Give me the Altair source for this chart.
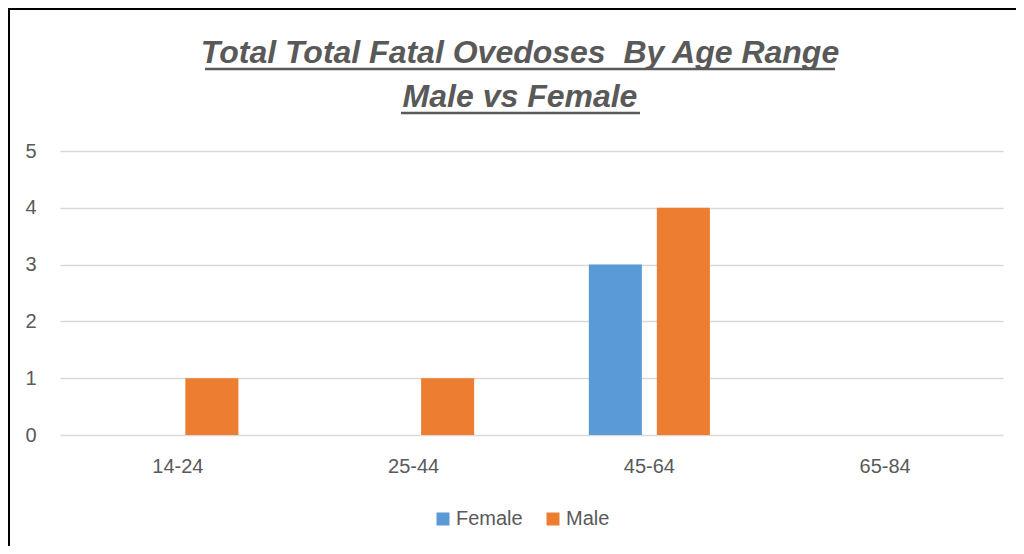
import altair as alt
import pandas as pd

# ---- data ----
age_ranges = ["14-24", "25-44", "45-64", "65-84"]
female_counts = [0, 0, 3, 0]
male_counts = [1, 1, 4, 0]
series_names = ["Female", "Male"]
series_colors = ["#5b9bd5", "#ed7d31"]
title_lines = ["Total Total Fatal Ovedoses \u00a0By Age Range", "Male vs Female"]

rows = []
for i, a in enumerate(age_ranges):
    rows.append({"age": a, "sex": "Female", "count": female_counts[i]})
    rows.append({"age": a, "sex": "Male", "count": male_counts[i]})
df = pd.DataFrame(rows)

FONT = "Liberation Sans"
GREY = "#595959"
W, H = 943, 284

bars = alt.Chart(df).mark_bar().encode(
    x=alt.X("age:N", sort=age_ranges,
            scale=alt.Scale(paddingInner=0, paddingOuter=0),
            axis=alt.Axis(title=None, labelAngle=0, ticks=False, domain=False,
                          labelFontSize=20, labelColor=GREY, labelFont=FONT,
                          labelPadding=21, grid=False)),
    xOffset=alt.XOffset("sex:N", sort=series_names,
                        scale=alt.Scale(paddingInner=0.22, paddingOuter=0.843)),
    y=alt.Y("count:Q", scale=alt.Scale(domain=[0, 5], nice=False),
            axis=alt.Axis(title=None, values=[0, 1, 2, 3, 4, 5], ticks=False,
                          domain=False, labelFontSize=20, labelColor=GREY,
                          labelFont=FONT, labelPadding=24,
                          gridColor="#d9d9d9", gridWidth=1.3)),
    color=alt.Color("sex:N", sort=series_names,
                    scale=alt.Scale(domain=series_names, range=series_colors),
                    legend=alt.Legend(title=None, orient="none", direction="horizontal",
                                      legendX=373, legendY=358, symbolType="square",
                                      symbolSize=169, symbolStrokeWidth=0,
                                      labelFontSize=20, labelColor=GREY, labelFont=FONT,
                                      labelOffset=3, columnPadding=20, padding=0)),
)

t1 = alt.Chart(pd.DataFrame({"t": [title_lines[0]]})).mark_text(
    font=FONT, fontSize=32, fontWeight="bold", fontStyle="italic",
    color=GREY, align="center", baseline="alphabetic"
).encode(text="t:N", x=alt.value(460), y=alt.value(-88))

t2 = alt.Chart(pd.DataFrame({"t": [title_lines[1]]})).mark_text(
    font=FONT, fontSize=32, fontWeight="bold", fontStyle="italic",
    color=GREY, align="center", baseline="alphabetic"
).encode(text="t:N", x=alt.value(460), y=alt.value(-44))

u1 = alt.Chart(pd.DataFrame({"d": [0]})).mark_rule(color=GREY, strokeWidth=2.5).encode(
    x=alt.value(145), x2=alt.value(775), y=alt.value(-82))
u2 = alt.Chart(pd.DataFrame({"d": [0]})).mark_rule(color=GREY, strokeWidth=2.5).encode(
    x=alt.value(341), x2=alt.value(580), y=alt.value(-38))

frame_top = alt.Chart(pd.DataFrame({"d": [0]})).mark_rule(color="#000000", strokeWidth=3).encode(
    x=alt.value(-60), x2=alt.value(1000), y=alt.value(-142.5))
frame_left = alt.Chart(pd.DataFrame({"d": [0]})).mark_rule(color="#000000", strokeWidth=3).encode(
    x=alt.value(-51.5), y=alt.value(-145), y2=alt.value(420))

chart = alt.layer(bars, t1, t2, u1, u2, frame_top, frame_left).properties(
    width=W, height=H,
    autosize=alt.AutoSizeParams(type="none"),
    padding={"left": 52, "top": 143, "right": 13, "bottom": 111},
    background="white",
).configure_view(stroke=None)

chart.save("out.html", embed_options={"renderer": "svg", "actions": False})
